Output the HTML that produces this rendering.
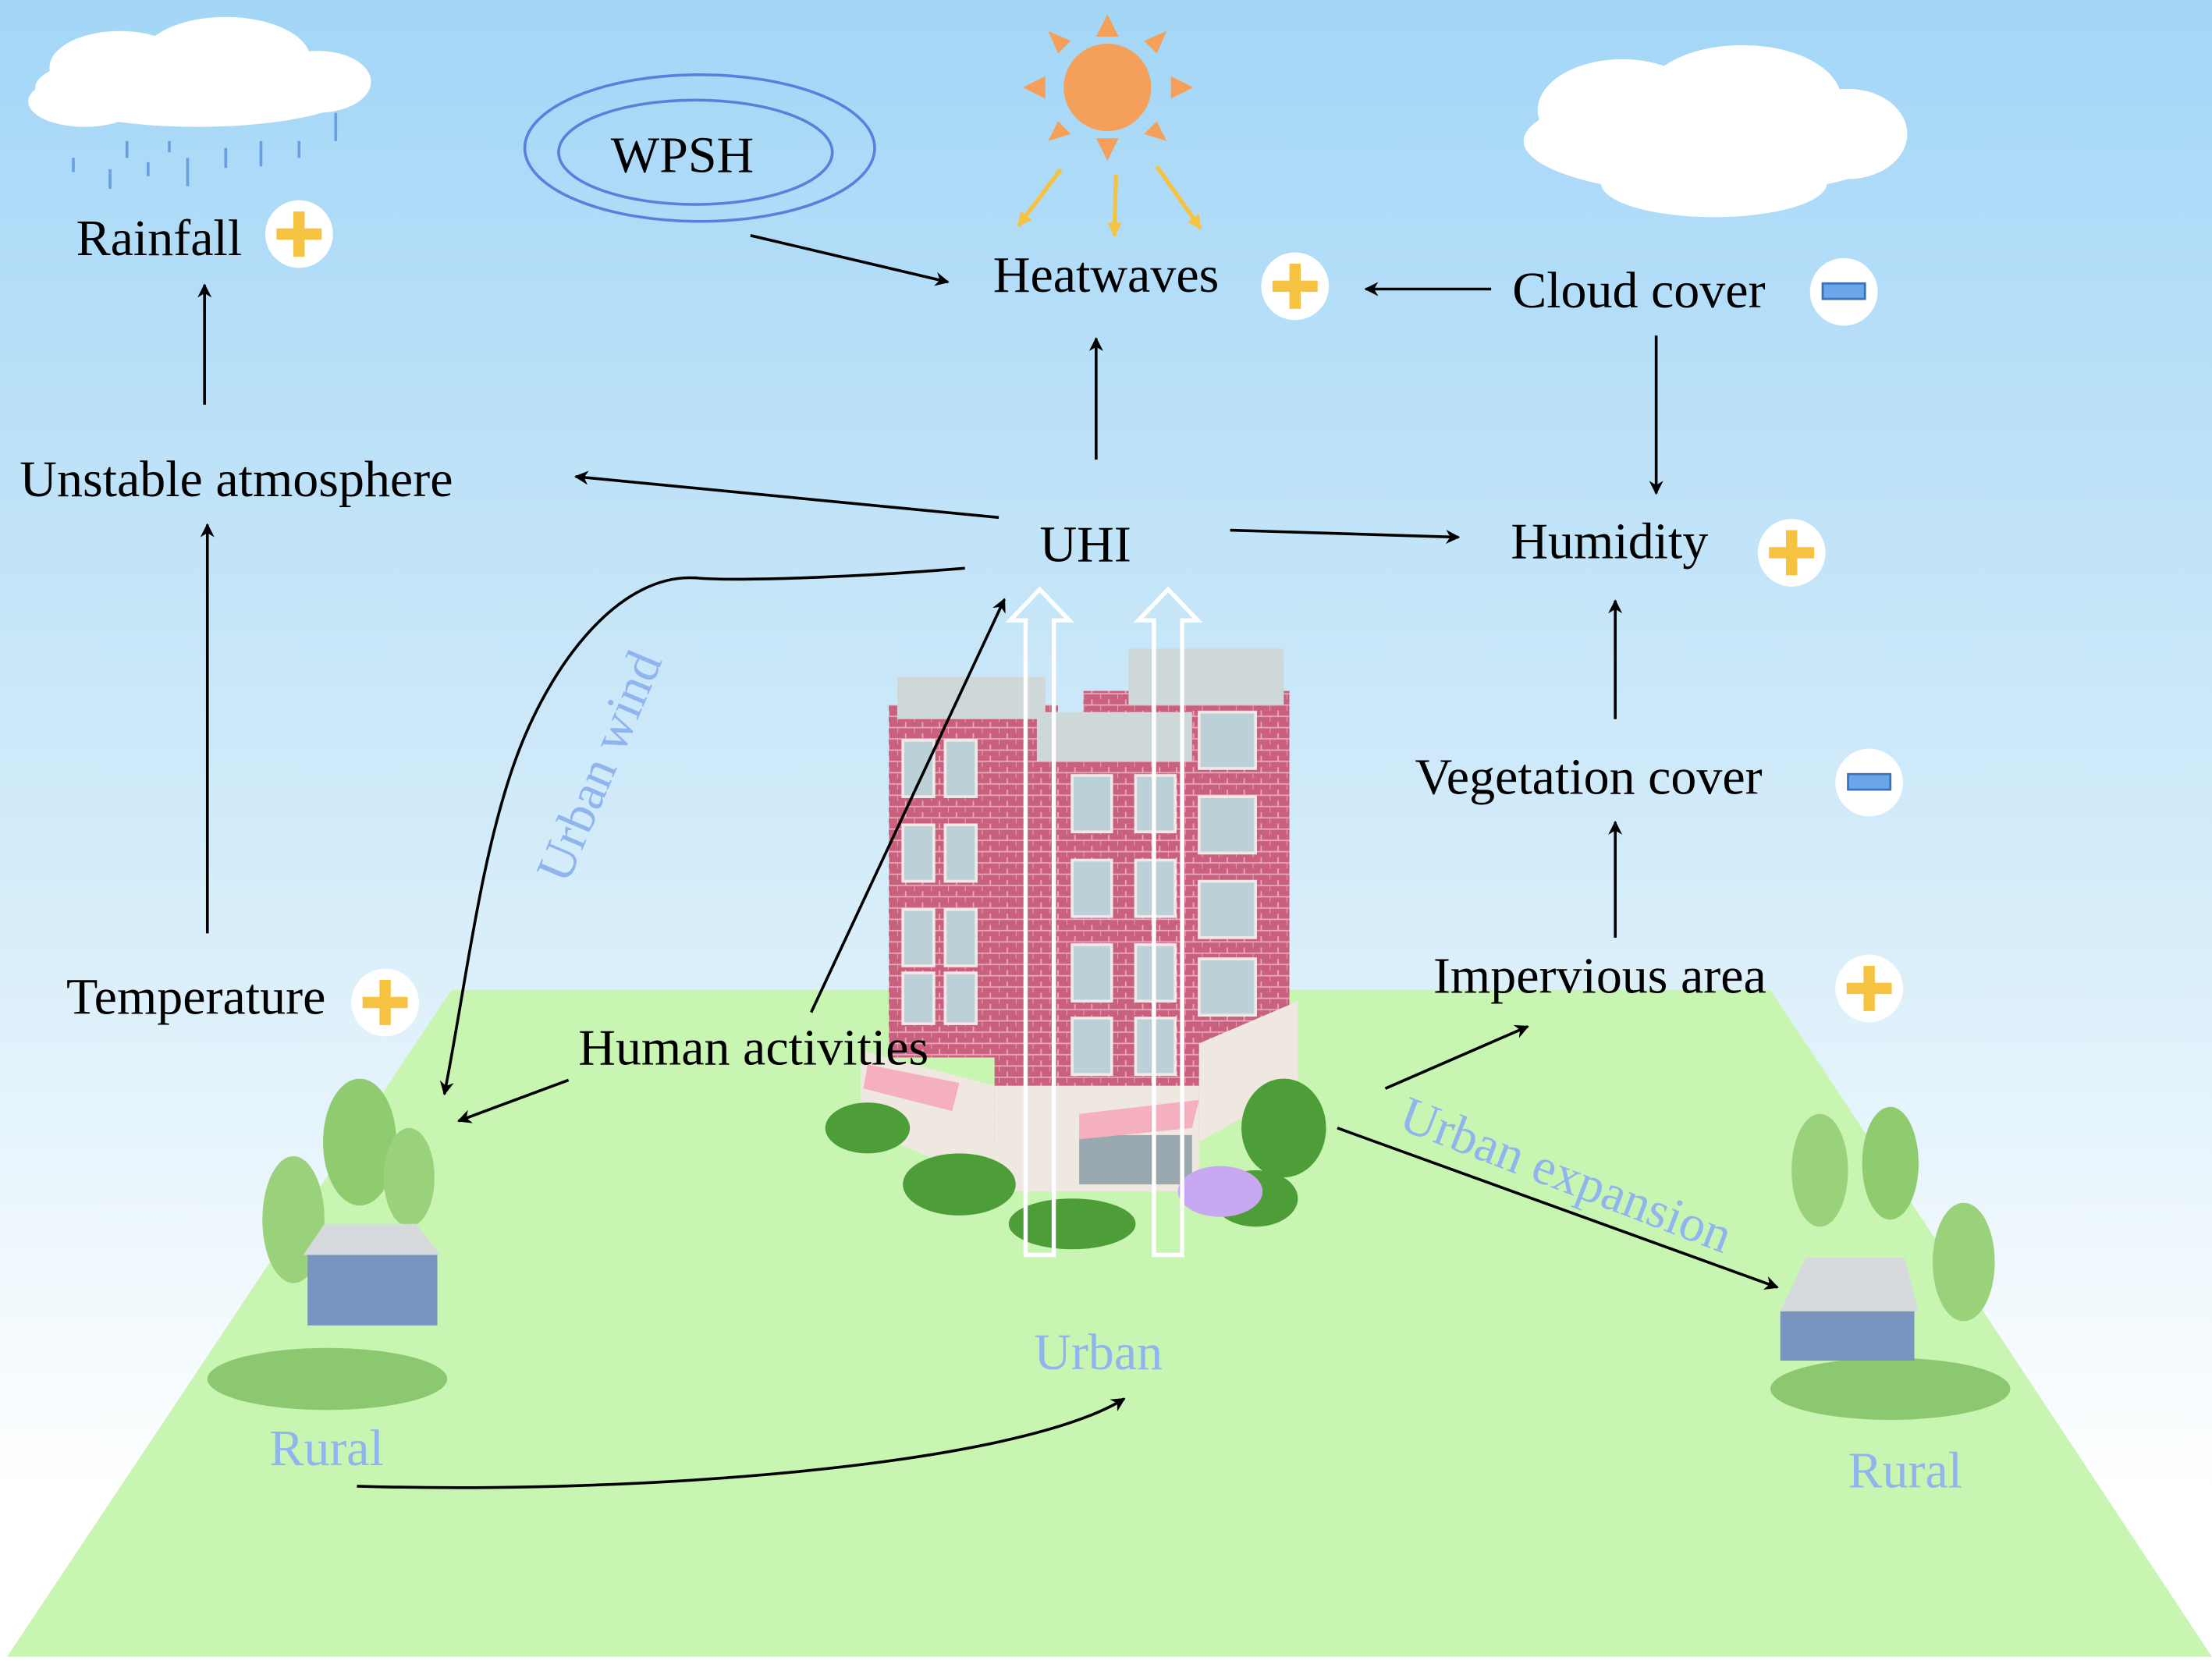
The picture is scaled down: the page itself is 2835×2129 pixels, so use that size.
<!DOCTYPE html>
<html><head><meta charset="utf-8"><style>
html,body{margin:0;padding:0;width:2835px;height:2129px;overflow:hidden;background:#fff}
svg{display:block}
text{font-family:"Liberation Serif",serif}
</style></head><body>
<svg width="2835" height="2129" viewBox="0 0 1568 1178" preserveAspectRatio="none" xmlns="http://www.w3.org/2000/svg">
<defs>
<linearGradient id="sky" x1="0" y1="0" x2="0" y2="1">
<stop offset="0" stop-color="#a3d6f7"/><stop offset="0.5" stop-color="#d2ebf9"/><stop offset="0.9" stop-color="#ffffff"/></linearGradient>
<marker id="ar" markerWidth="10" markerHeight="10" refX="9" refY="5" orient="auto" markerUnits="userSpaceOnUse" viewBox="0 0 10 10">
<path d="M0,0 L10,5 L0,10 L3,5 z" fill="#000"/></marker>
<marker id="ary" markerWidth="10" markerHeight="10" refX="9" refY="5" orient="auto" markerUnits="userSpaceOnUse" viewBox="0 0 10 10">
<path d="M0,0 L10,5 L0,10 z" fill="#f5c242"/></marker>
<pattern id="brick" width="12" height="8" patternUnits="userSpaceOnUse">
<rect width="12" height="8" fill="#c8607e"/><path d="M0,4H12M6,0V4M0,4V8" stroke="#e9a8bc" stroke-width="1"/></pattern>
</defs>
<rect width="1568" height="1178" fill="url(#sky)"/>
<polygon points="320,702 1255,702 1568,1175 5,1175" fill="#c8f5b2"/>
<!-- clouds -->
<g fill="#fff">
<ellipse cx="140" cy="62" rx="115" ry="28"/><ellipse cx="85" cy="48" rx="50" ry="26"/><ellipse cx="160" cy="42" rx="60" ry="30"/><ellipse cx="225" cy="58" rx="38" ry="22"/><ellipse cx="60" cy="72" rx="40" ry="18"/>
<ellipse cx="1215" cy="100" rx="135" ry="38"/><ellipse cx="1150" cy="78" rx="60" ry="36"/><ellipse cx="1235" cy="70" rx="70" ry="38"/><ellipse cx="1310" cy="95" rx="42" ry="32"/><ellipse cx="1215" cy="130" rx="80" ry="24"/>
</g>
<g stroke="#6a9ee0" stroke-width="2">
<path d="M52,112v10M78,120v14M90,100v12M105,115v10M133,112v20M160,105v14M185,100v18M212,100v12M238,80v20M120,100v8"/></g>
<!-- sun -->
<circle cx="785" cy="62" r="31" fill="#f5a05a"/>
<g fill="#f5a05a">
<polygon points="785,10 777,26 793,26"/><polygon points="785,114 777,98 793,98"/>
<polygon points="725,62 741,54 741,70"/><polygon points="846,62 830,54 830,70"/>
<polygon points="743,22 750,38 759,29"/><polygon points="827,22 820,38 811,29"/>
<polygon points="743,100 750,86 759,95"/><polygon points="827,100 820,86 811,95"/>
</g>
<g stroke="#f5c242" stroke-width="3" fill="none">
<line x1="752" y1="120" x2="722" y2="160" marker-end="url(#ary)"/>
<line x1="791" y1="124" x2="790" y2="167" marker-end="url(#ary)"/>
<line x1="820" y1="118" x2="851" y2="162" marker-end="url(#ary)"/>
</g>
<!-- WPSH -->
<ellipse cx="496" cy="105" rx="124" ry="52" fill="none" stroke="#5b7fdc" stroke-width="2"/>
<ellipse cx="493" cy="108" rx="97" ry="37" fill="none" stroke="#5b7fdc" stroke-width="2"/>
<text x="433" y="122" font-size="36.5">WPSH</text>
<!-- building -->
<g>
<rect x="630" y="500" width="120" height="250" fill="url(#brick)"/>
<rect x="768" y="490" width="146" height="250" fill="url(#brick)"/>
<rect x="705" y="530" width="145" height="280" fill="url(#brick)"/>
<rect x="636" y="480" width="105" height="30" fill="#cfd8d8"/>
<rect x="800" y="460" width="110" height="40" fill="#cfd8d8"/>
<rect x="735" y="505" width="110" height="35" fill="#cfd8d8"/>
<g fill="#bcd0d8" stroke="#f2e8e8" stroke-width="2">
<rect x="640" y="525" width="22" height="40"/><rect x="670" y="525" width="22" height="40"/><rect x="640" y="585" width="22" height="40"/><rect x="670" y="585" width="22" height="40"/><rect x="640" y="645" width="22" height="40"/><rect x="670" y="645" width="22" height="40"/><rect x="640" y="690" width="22" height="36"/><rect x="670" y="690" width="22" height="36"/>
<rect x="850" y="505" width="40" height="40"/><rect x="850" y="565" width="40" height="40"/><rect x="850" y="625" width="40" height="40"/><rect x="850" y="680" width="40" height="40"/>
<rect x="760" y="550" width="28" height="40"/><rect x="805" y="550" width="28" height="40"/><rect x="760" y="610" width="28" height="40"/><rect x="805" y="610" width="28" height="40"/><rect x="760" y="670" width="28" height="40"/><rect x="805" y="670" width="28" height="40"/><rect x="760" y="722" width="28" height="40"/><rect x="805" y="722" width="28" height="40"/>
</g>
<polygon points="610,745 705,770 705,840 610,800" fill="#efe8e0"/>
<rect x="705" y="770" width="145" height="75" fill="#efe8e0"/>
<polygon points="850,740 920,710 920,770 850,810" fill="#efe8e0"/>
<rect x="765" y="805" width="80" height="35" fill="#9aa8b0"/>
<polygon points="765,790 850,780 845,800 765,808" fill="#f5b0c0"/>
<polygon points="615,755 680,768 675,788 612,772" fill="#f5b0c0"/>
<g fill="#4d9e38"><ellipse cx="615" cy="800" rx="30" ry="18"/><ellipse cx="680" cy="840" rx="40" ry="22"/><ellipse cx="760" cy="868" rx="45" ry="18"/><ellipse cx="910" cy="800" rx="30" ry="35"/><ellipse cx="890" cy="850" rx="30" ry="20"/></g>
<ellipse cx="865" cy="845" rx="30" ry="18" fill="#c8a8f0"/>
</g>
<!-- white hollow arrows -->
<g fill="none" stroke="#fff" stroke-width="3">
<path d="M727,890 V440 H716 L737,418 L758,440 H747 V890 Z"/>
<path d="M818,890 V440 H807 L828,418 L849,440 H838 V890 Z"/>
</g>
<!-- rural left -->
<g>
<ellipse cx="232" cy="978" rx="85" ry="22" fill="#8cc870"/>
<ellipse cx="208" cy="865" rx="22" ry="45" fill="#9ad27c"/><ellipse cx="255" cy="810" rx="26" ry="45" fill="#8fcc70"/><ellipse cx="290" cy="835" rx="18" ry="35" fill="#9ad27c"/>
<polygon points="215,890 230,868 295,868 312,890" fill="#d6dadd"/>
<rect x="218" y="890" width="92" height="50" fill="#7a94c0"/>
</g>
<!-- rural right -->
<g>
<ellipse cx="1340" cy="985" rx="85" ry="22" fill="#8cc870"/>
<ellipse cx="1290" cy="830" rx="20" ry="40" fill="#9ad27c"/><ellipse cx="1340" cy="825" rx="20" ry="40" fill="#8fcc70"/><ellipse cx="1392" cy="895" rx="22" ry="42" fill="#9ad27c"/>
<polygon points="1262,930 1280,892 1350,892 1360,930" fill="#d6dadd"/>
<rect x="1262" y="930" width="95" height="35" fill="#7a94c0"/>
</g>
<!-- arrows -->
<g stroke="#000" stroke-width="2" fill="none" marker-end="url(#ar)">
<line x1="145" y1="287" x2="145" y2="202"/>
<line x1="147" y1="662" x2="147" y2="372"/>
<line x1="532" y1="167" x2="672" y2="200"/>
<line x1="1057" y1="205" x2="968" y2="205"/>
<line x1="777" y1="326" x2="777" y2="240"/>
<line x1="1174" y1="238" x2="1174" y2="350"/>
<line x1="708" y1="367" x2="408" y2="338"/>
<line x1="872" y1="376" x2="1034" y2="381"/>
<line x1="1145" y1="510" x2="1145" y2="426"/>
<line x1="1145" y1="665" x2="1145" y2="583"/>
<line x1="982" y1="772" x2="1083" y2="728"/>
<line x1="948" y1="800" x2="1260" y2="913"/>
<line x1="403" y1="766" x2="325" y2="795"/>
<line x1="575" y1="718" x2="712" y2="425"/>
<path d="M684,403 C600,410 520,412 495,410 C440,405 390,470 365,540 C340,610 330,700 315,776"/>
<path d="M253,1054 C450,1060 720,1040 797,992"/>
</g>
<!-- labels -->
<g font-size="36.5" fill="#000">
<text x="54" y="181">Rainfall</text>
<text x="704" y="207">Heatwaves</text>
<text x="1072" y="218">Cloud cover</text>
<text x="14" y="352">Unstable atmosphere</text>
<text x="737" y="398">UHI</text>
<text x="1071" y="396">Humidity</text>
<text x="1003" y="563">Vegetation cover</text>
<text x="47" y="719">Temperature</text>
<text x="1016" y="704">Impervious area</text>
<text x="410" y="755">Human activities</text>
</g>
<g font-size="36.5" fill="#8fb4ee">
<text x="733" y="971">Urban</text>
<text x="191" y="1039">Rural</text>
<text x="1310" y="1055">Rural</text>
<text transform="translate(402,628) rotate(-67)">Urban wind</text>
<text transform="translate(990,800) rotate(21)">Urban expansion</text>
</g>
<!-- plus / minus badges -->
<g>
<g fill="#fff"><circle cx="212" cy="166" r="24"/><circle cx="918" cy="203" r="24"/><circle cx="1270" cy="392" r="24"/><circle cx="273" cy="711" r="24"/><circle cx="1325" cy="701" r="24"/><circle cx="1307" cy="207" r="24"/><circle cx="1325" cy="555" r="24"/></g>
<g fill="#f5c242">
<rect x="208" y="150" width="8" height="32"/><rect x="196" y="162" width="32" height="8"/>
<rect x="914" y="187" width="8" height="32"/><rect x="902" y="199" width="32" height="8"/>
<rect x="1266" y="376" width="8" height="32"/><rect x="1254" y="388" width="32" height="8"/>
<rect x="269" y="695" width="8" height="32"/><rect x="257" y="707" width="32" height="8"/>
<rect x="1321" y="685" width="8" height="32"/><rect x="1309" y="697" width="32" height="8"/>
</g>
<g fill="#6aa6e8" stroke="#3d6fc0" stroke-width="1.5"><rect x="1292" y="201" width="30" height="11"/><rect x="1310" y="549" width="30" height="11"/></g>
</g>
</svg>
</body></html>
